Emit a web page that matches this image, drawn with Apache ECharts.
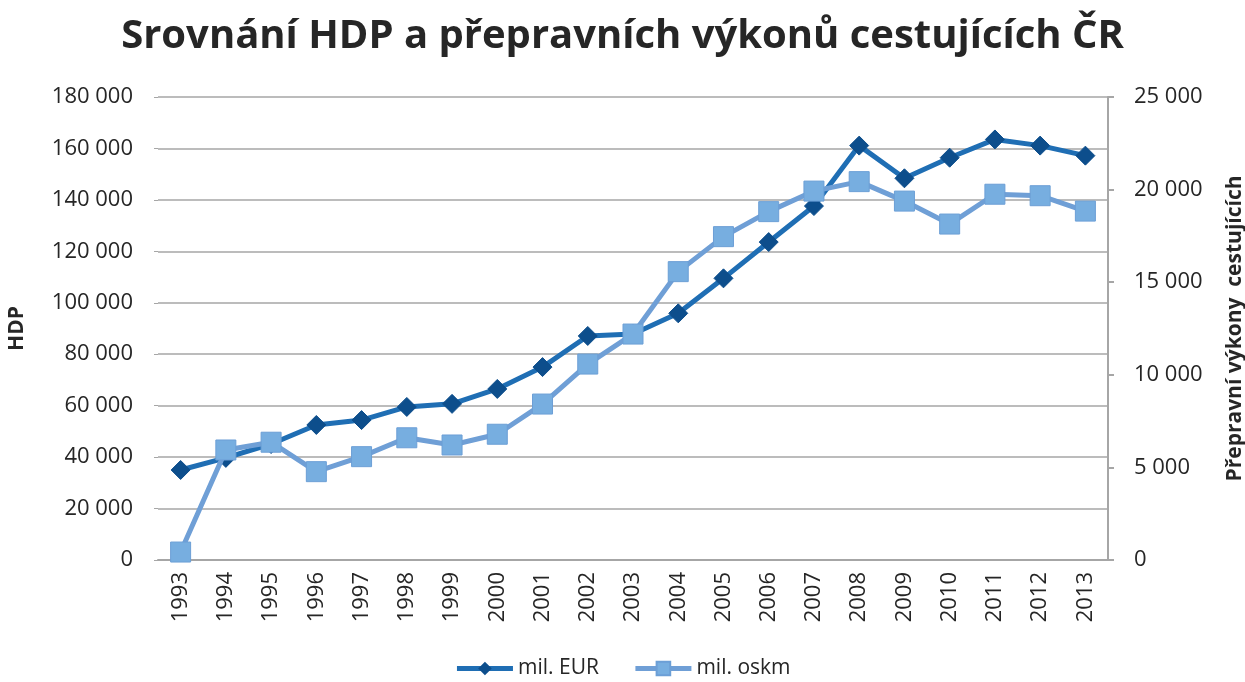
<!DOCTYPE html>
<html>
<head>
<meta charset="utf-8">
<script src="https://cdn.jsdelivr.net/npm/echarts@6/dist/echarts.min.js"></script>
<style>
  html, body { margin: 0; padding: 0; background: #fff; }
  #chart { width: 1245px; height: 682px; }
</style>
</head>
<body>
<div id="chart"></div>
<script>
// roky
var years = ['1993', '1994', '1995', '1996', '1997', '1998', '1999', '2000', '2001', '2002', '2003',
  '2004', '2005', '2006', '2007', '2008', '2009', '2010', '2011', '2012', '2013'];
// HDP v mil. EUR (levá osa)
var hdpEur = [35000, 39700, 45100, 52500, 54400, 59500, 60700, 66500, 75000, 87100, 87900,
  95900, 109500, 123600, 137600, 161100, 148400, 156400, 163500, 161100, 157200];
// přepravní výkony v mil. oskm (pravá osa)
var vykonyOskm = [430, 5940, 6360, 4770, 5580, 6600, 6210, 6790, 8420, 10580, 12200,
  15570, 17460, 18810, 19920, 20430, 19380, 18140, 19750, 19670, 18840];

var fnt = 'Open Sans';
function fmt(v) {
  return String(v).replace(/\B(?=(\d{3})+(?!\d))/g, ' ');
}

var chart = echarts.init(document.getElementById('chart'));
chart.setOption({
  animation: false,
  title: {
    text: 'Srovnání HDP a přepravních výkonů cestujících ČR',
    left: 'center',
    top: 12,
    textStyle: { fontFamily: fnt, fontSize: 40, fontWeight: 'bold', color: '#262626' }
  },
  legend: {
    bottom: -2,
    left: 'center',
    itemWidth: 56,
    itemHeight: 17,
    itemGap: 34,
    textStyle: { fontFamily: fnt, fontSize: 21, color: '#262626' },
    lineStyle: { width: 5 },
    data: ['mil. EUR', 'mil. oskm']
  },
  grid: { left: 158, right: 137, top: 97, bottom: 122, outerBoundsMode: 'none' },
  xAxis: {
    type: 'category',
    data: years,
    boundaryGap: true,
    axisLine: { lineStyle: { color: '#a6a6a6', width: 2 } },
    axisTick: { show: false },
    axisLabel: { rotate: 90, fontFamily: fnt, fontSize: 22, color: '#262626', margin: 12 }
  },
  yAxis: [{
    type: 'value',
    min: 0, max: 180000, interval: 20000,
    name: 'HDP',
    nameLocation: 'middle',
    nameGap: 130,
    nameRotate: 90,
    nameTextStyle: { fontFamily: fnt, fontSize: 21, fontWeight: 'bold', color: '#262626' },
    axisLine: { show: false },
    axisTick: { show: true, length: 4, lineStyle: { color: '#a6a6a6' } },
    splitLine: { lineStyle: { color: '#a6a6a6', width: 1.5 } },
    axisLabel: { fontFamily: fnt, fontSize: 22, color: '#262626', margin: 25, formatter: fmt }
  }, {
    type: 'value',
    min: 0, max: 25000, interval: 5000,
    name: 'Přepravní výkony  cestujících',
    nameLocation: 'middle',
    nameGap: 117,
    nameRotate: 90,
    nameTextStyle: { fontFamily: fnt, fontSize: 21, fontWeight: 'bold', color: '#262626' },
    axisLine: { show: true, lineStyle: { color: '#a6a6a6', width: 2 } },
    axisTick: { show: true, length: 6, lineStyle: { color: '#a6a6a6', width: 2 } },
    splitLine: { show: false },
    axisLabel: { fontFamily: fnt, fontSize: 22, color: '#262626', margin: 26, formatter: fmt }
  }],
  series: [{
    name: 'mil. EUR',
    type: 'line',
    yAxisIndex: 0,
    data: hdpEur,
    symbol: 'diamond',
    symbolSize: 19,
    lineStyle: { color: '#1f6eb4', width: 5 },
    itemStyle: { color: '#0d4e8c', borderColor: '#0d4e8c' },
    z: 3
  }, {
    name: 'mil. oskm',
    type: 'line',
    yAxisIndex: 1,
    data: vykonyOskm,
    symbol: 'rect',
    symbolSize: 20,
    lineStyle: { color: '#6f9fd6', width: 5 },
    itemStyle: { color: '#77aee0', borderColor: '#6c9fd6', borderWidth: 1 },
    z: 4
  }]
});
</script>
</body>
</html>
